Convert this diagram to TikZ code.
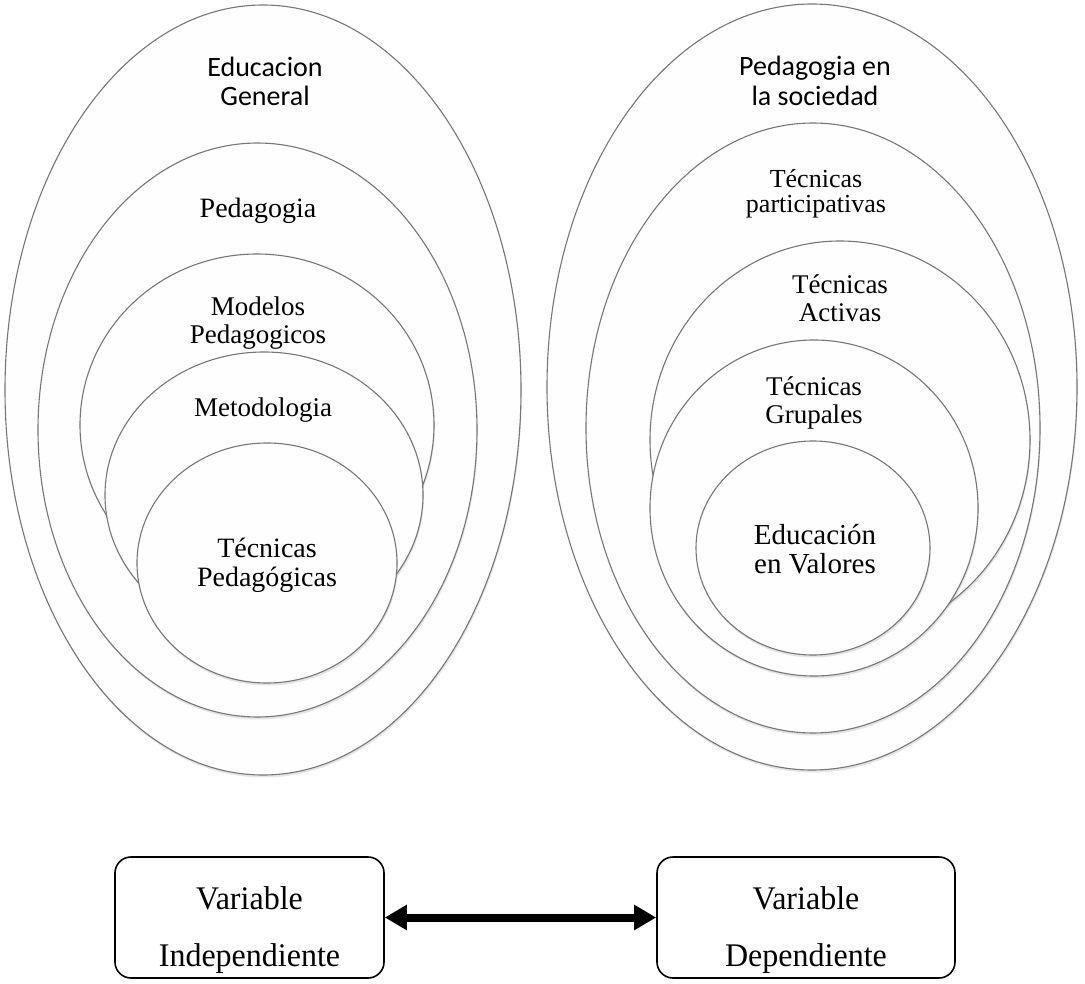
\documentclass[tikz,border=0pt]{standalone}
\usepackage{fontspec}
\setmainfont{Liberation Serif}
\newfontfamily\calibrifont{Carlito}
\newfontfamily\narrowfont[FakeStretch=0.97]{Liberation Serif}
\usetikzlibrary{arrows.meta,positioning,shadows,shapes.geometric}
\definecolor{rimgray}{HTML}{767676}
\definecolor{paper}{HTML}{FEFEFE}
\tikzset{%
	bubble/.style  = {draw=rimgray, line width=1.1pt, fill=paper, ellipse, inner sep=0pt, drop shadow={shadow xshift=0.8pt, shadow yshift=-2.5pt, opacity=0.2}},
	serif/.style   = {align=center, inner sep=0pt, font=\fontsize{27}{28}\selectfont},
	sans/.style    = {align=center, inner sep=0pt, font=\calibrifont\fontsize{28}{29}\selectfont},
	varbox/.style  = {draw, line width=1.6pt, rounded corners=16pt, minimum height=121pt, align=center, inner sep=0pt, font=\narrowfont\fontsize{33}{57}\selectfont},
	arrow/.style   = {line width=8pt, {Triangle[length=22pt,width=24pt]}-{Triangle[length=22pt,width=24pt]}},
}

\begin{document}
\begin{tikzpicture}[x=1pt,y=-1pt]
	\useasboundingbox (0,0) rectangle (1085,984);
	
	% left group
	\node[bubble, minimum width=516pt, minimum height=770pt] (eduGen) at (263,390) {};
	\node[bubble, minimum width=439pt, minimum height=574pt] (pedag) at (257.5,430) {};
	\node[bubble, minimum width=354pt, minimum height=342pt] (modelos) at (257,425) {};
	\node[bubble, minimum width=318pt, minimum height=286pt] (metodo) at (264,495) {};
	\node[bubble, minimum width=260pt, minimum height=240pt] (tecPed) at (267,563) {};
	
	\node[sans] (eduGenT) at (265,81) {Educacion\\General};
	\node[serif, anchor=base, font=\fontsize{28}{29}\selectfont] (pedagT) at (258,218) {Pedagogia};
	\node[serif] (modelosT) at (258,323) {Modelos\\Pedagogicos};
	\node[serif, anchor=base] (metodoT) at (263,417) {Metodologia};
	\node[serif, font=\fontsize{28}{29}\selectfont] (tecPedT) at (267,565) {Técnicas\\Pedagógicas};
	
	% right group
	\node[bubble, minimum width=530pt, minimum height=766pt] (pedSoc) at (812,387) {};
	\node[bubble, minimum width=454pt, minimum height=610pt] (tecPart) at (813,428) {};
	\node[bubble, minimum width=380pt, minimum height=398pt] (tecAct) at (840,440) {};
	\node[bubble, minimum width=328pt, minimum height=336pt] (tecGrup) at (814,508) {};
	\node[bubble, minimum width=234pt, minimum height=214pt] (eduVal) at (813,548) {};
	
	\node[sans, font=\calibrifont\fontsize{28}{30}\selectfont] (pedSocT) at (815,81) {Pedagogia en\\la sociedad};
	\node[serif, font=\fontsize{26}{25}\selectfont] (tecPartT) at (816,194) {Técnicas\\participativas};
	\node[serif] (tecActT) at (840,298) {Técnicas\\Activas};
	\node[serif] (tecGrupT) at (814,403) {Técnicas\\Grupales};
	\node[serif, font=\fontsize{29}{29}\selectfont] (eduValT) at (815,549) {Educación\\en Valores};
	
	% variables
	\node[varbox, minimum width=269pt] (indep) at (249.5,917.5) {\rule{0pt}{48pt}Variable\\Independiente};
	\node[varbox, minimum width=298pt] (dep) at (806,917.5) {\rule{0pt}{48pt}Variable\\Dependiente};
	
	\draw[arrow] (indep) -- (dep);
	
\end{tikzpicture}
\end{document}
